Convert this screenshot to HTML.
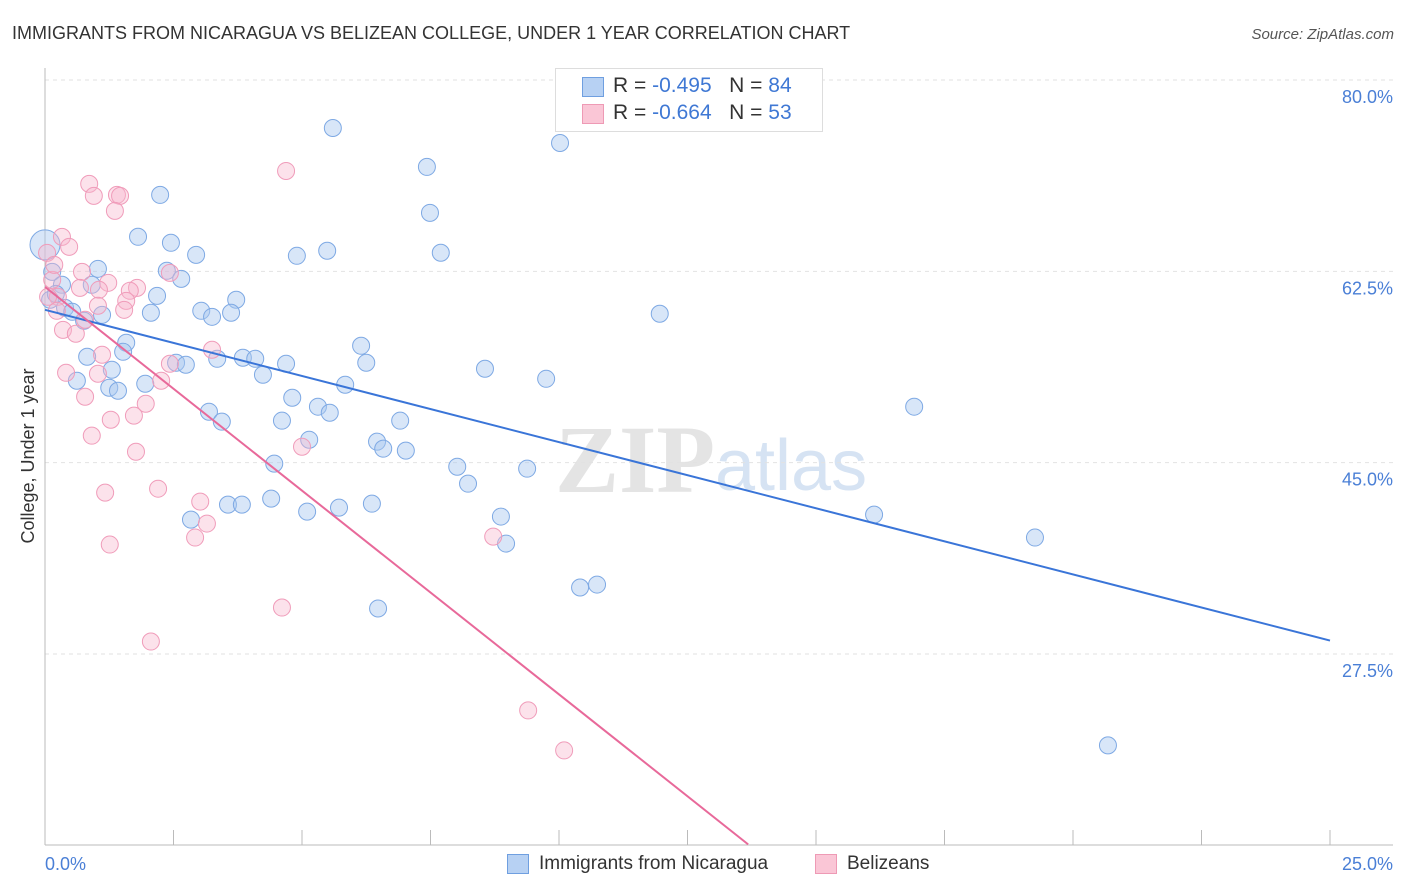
<!DOCTYPE html>
<html><head><meta charset="utf-8"><style>
body{margin:0;background:#fff;font-family:"Liberation Sans",sans-serif;}
#wrap{position:relative;width:1406px;height:892px;overflow:hidden;}
</style></head><body>
<div id="wrap">
<svg id="svg" width="1406" height="892" xmlns="http://www.w3.org/2000/svg">
<text x="12" y="39" font-size="18" fill="#333">IMMIGRANTS FROM NICARAGUA VS BELIZEAN COLLEGE, UNDER 1 YEAR CORRELATION CHART</text>
<text x="1394" y="39" font-size="15" fill="#555" font-style="italic" text-anchor="end">Source: ZipAtlas.com</text>
<text x="555" y="492" font-size="96" fill="#e4e4e4" font-weight="bold" font-family="Liberation Serif,serif">ZIP</text>
<text x="715" y="490" font-size="72" fill="#d6e3f3">atlas</text>
<text transform="translate(34,456) rotate(-90)" font-size="18" fill="#333" text-anchor="middle">College, Under 1 year</text>
<g id="grid"></g><g id="pts"></g><g id="lines"></g>
</svg>
<div style="position:absolute;left:555px;top:68px;width:266px;height:62px;border:1px solid #ddd;background:#fff;font-size:21px;">
<div style="position:absolute;left:26px;top:8px;width:20px;height:18px;background:#b7d1f3;border:1px solid #6f9fe0"></div>
<div style="position:absolute;left:57px;top:5px;color:#333">R = <span style="color:#3f78d4">-0.495</span>&nbsp;&nbsp;&nbsp;N = <span style="color:#3f78d4">84</span></div>
<div style="position:absolute;left:26px;top:35px;width:20px;height:18px;background:#fac6d6;border:1px solid #ee9ab5"></div>
<div style="position:absolute;left:57px;top:32px;color:#333">R = <span style="color:#3f78d4">-0.664</span>&nbsp;&nbsp;&nbsp;N = <span style="color:#3f78d4">53</span></div>
</div>
<div style="position:absolute;left:507px;top:854px;width:20px;height:18px;background:#b7d1f3;border:1px solid #6f9fe0"></div>
<div style="position:absolute;left:539px;top:853px;font-size:19px;color:#333">Immigrants from Nicaragua</div>
<div style="position:absolute;left:815px;top:854px;width:20px;height:18px;background:#fac6d6;border:1px solid #ee9ab5"></div>
<div style="position:absolute;left:847px;top:853px;font-size:19px;color:#333">Belizeans</div>
</div>
<script>
const yTicks=[80,62.5,45,27.5];
const yTickLabels=["80.0%","62.5%","45.0%","27.5%"];
const xTickCount=10;
const blueX=[5.60,10.02,7.43,2.24,7.49,1.81,2.45,5.49,7.70,2.94,4.90,1.03,2.37,2.65,0.14,0.91,0.33,2.18,3.72,0.39,0.53,1.11,3.04,3.25,3.62,2.06,11.96,0.76,1.58,1.52,6.15,0.82,3.85,4.09,3.35,2.55,2.74,4.69,6.25,8.56,1.30,4.24,9.75,0.62,5.84,1.25,1.95,1.42,4.81,5.31,3.19,5.54,16.91,3.44,4.61,6.91,5.14,6.46,6.58,7.02,4.46,8.02,9.38,8.23,4.40,3.56,3.83,2.84,5.10,5.72,6.36,16.13,8.87,19.26,8.97,10.74,10.41,6.48,20.68,0.0,0.10,0.21];
const blueY=[75.61,74.24,72.05,69.49,67.85,65.66,65.11,64.38,64.20,64.01,63.92,62.73,62.55,61.81,62.45,61.27,61.27,60.26,59.90,59.16,58.80,58.52,58.89,58.34,58.71,58.71,58.62,57.98,55.97,55.14,55.69,54.69,54.60,54.50,54.50,54.14,53.96,54.05,54.14,53.59,53.50,53.04,52.67,52.49,52.13,51.85,52.22,51.58,50.94,50.12,49.66,49.57,50.12,48.75,48.84,48.84,47.10,46.92,46.28,46.10,44.91,44.63,44.45,43.08,41.71,41.16,41.16,39.79,40.52,40.89,41.25,40.25,40.07,38.15,37.60,33.85,33.58,31.66,19.14,64.92,59.90,60.44];
const pinkX=[4.69,0.86,1.40,0.95,1.46,1.36,0.33,0.47,0.04,0.14,0.72,1.23,0.68,1.05,1.79,1.65,0.25,1.58,1.03,1.54,0.23,0.78,0.35,0.60,3.25,1.11,2.43,0.41,1.03,2.26,0.78,1.96,1.73,1.28,0.91,5.00,1.77,1.17,2.20,3.02,3.15,2.92,1.26,8.72,4.61,2.06,9.40,10.10,0.06,0.18,2.43];
const pinkY=[71.68,70.50,69.49,69.40,69.40,68.03,65.65,64.74,64.19,61.72,62.45,61.45,60.99,60.81,60.99,60.72,60.17,59.80,59.35,58.98,58.89,58.07,57.15,56.79,55.33,54.87,54.05,53.22,53.13,52.49,51.03,50.39,49.30,48.93,47.47,46.46,46.00,42.26,42.62,41.44,39.43,38.15,37.51,38.24,31.75,28.64,22.34,18.68,60.17,63.09,62.36];
const blueTrend=[58.98,28.73];
const pinkTrend=[61.08,10.09,13.68];

const X0=45,X1=1330,YT=80,YB=654;
function sx(v){return X0+(X1-X0)*v/25;}
function sy(v){return YT+(80-v)*(YB-YT)/52.5;}
const NS="http://www.w3.org/2000/svg";
function mk(tag,attrs,parent){const e=document.createElementNS(NS,tag);for(const k in attrs)e.setAttribute(k,attrs[k]);parent.appendChild(e);return e;}
const grid=document.getElementById('grid');
yTicks.forEach((t,i)=>{
  const l=mk('line',{x1:45,x2:1393,y1:sy(t),y2:sy(t),stroke:'#e2e2e2','stroke-dasharray':'4,4'},grid);
  
  
  const tx=mk('text',{x:1393,y:sy(t)+23,'text-anchor':'end','font-size':18,fill:'#4a7fd6'},grid);
  tx.textContent=yTickLabels[i];
  
  
});
const ax=mk('line',{x1:45,x2:45,y1:68,y2:845,stroke:'#bbb'},grid);


const bx=mk('line',{x1:45,x2:1393,y1:845,y2:845,stroke:'#bbb'},grid);


for(let i=0;i<=xTickCount;i++){
  const v=25*i/xTickCount;
  const t=mk('line',{x1:sx(v),x2:sx(v),y1:830,y2:845,stroke:'#bbb'},grid);
  
  
}
const xl0=mk('text',{x:45,y:870,'font-size':18,fill:'#4a7fd6'},grid);xl0.textContent='0.0%';


const xl1=mk('text',{x:1393,y:870,'font-size':18,fill:'#4a7fd6','text-anchor':'end'},grid);xl1.textContent='25.0%';


const pts=document.getElementById('pts');
blueX.forEach((x,i)=>{
  const c=mk('circle',{cx:sx(x),cy:sy(blueY[i]),r:(i===79?15:8.5),fill:'#a9c8f0','fill-opacity':0.45,stroke:'#7ea9e4','stroke-width':1},pts);
  
  
});
pinkX.forEach((x,i)=>{
  const c=mk('circle',{cx:sx(x),cy:sy(pinkY[i]),r:8.5,fill:'#f7b7cc','fill-opacity':0.4,stroke:'#f09cba','stroke-width':1},pts);
  
  
});
const lines=document.getElementById('lines');
const bl=mk('line',{x1:sx(0),y1:sy(blueTrend[0]),x2:sx(25),y2:sy(blueTrend[1]),stroke:'#3a75d8','stroke-width':2},lines);


const pl=mk('line',{x1:sx(0),y1:sy(pinkTrend[0]),x2:sx(pinkTrend[2]),y2:sy(pinkTrend[1]),stroke:'#e8699a','stroke-width':2},lines);


</script>
</body></html>
